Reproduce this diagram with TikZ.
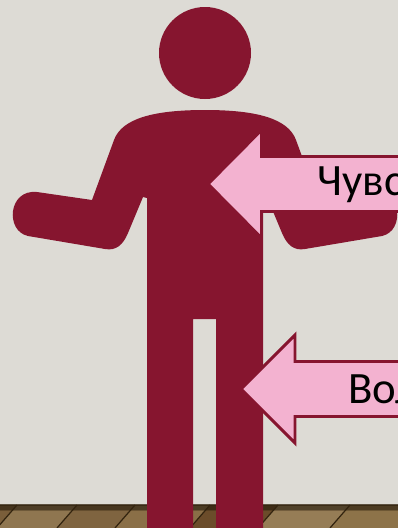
\documentclass[tikz,border=0pt]{standalone}
\usepackage{fontspec}
\setmainfont{Carlito}
\usepackage{xcolor}
\definecolor{wallc}{HTML}{DDDBD5}
\definecolor{figc}{HTML}{86152F}
\definecolor{pinkc}{HTML}{F3B2D0}
\definecolor{floorc}{HTML}{7A5E3A}
\definecolor{seamc}{HTML}{33240F}
\tikzset{
  figure/.style={fill=figc},
  callout/.style={draw=figc,fill=pinkc,line width=1.7pt,miter limit=10},
  calltext/.style={anchor=base west,inner sep=0pt,font=\fontsize{25.5pt}{28pt}\selectfont,text=black}
}
\begin{document}
\begin{tikzpicture}[x=0.02cm,y=-0.02cm]
\useasboundingbox(0,0)rectangle(398,528);
\clip(0,0)rectangle(398,528);
\fill[wallc](0,0)rectangle(398,505);
\fill[floorc](0,505)rectangle(398,528);
\foreach \x/\y/\c in {17/77/8F7650,77/135/7F6440,135/210/8A6F47,210/278/6B4C2A,278/350/967D56,350/420/8D7349}{
  \definecolor{plankc}{HTML}{\c}
  \fill[plankc](\x,505)--(\y,505)--(\y-20,528)--(\x-20,528)--cycle;
}
\fill[top color=seamc,bottom color=seamc,opacity=0.35](0,505)rectangle(398,510);
\fill[seamc,opacity=0.75](0,503.5)rectangle(398,505.5);
\foreach \x in {17,77,135,210,278,350}
\draw[seamc,line width=0.7pt](\x,505)--(\x-20,528);
\fill[figure](205,53)circle(46);
\path[figure](147,528)--(147,198)--(143,197)--(128,233)
  .. controls (123,245) and (116,251) .. (105,249)
  --(28,236)
  .. controls (5,231) and (8,189) .. (37,192)
  --(92,200)--(114,140)
  .. controls (122,118) and (155,110) .. (205,110)
  .. controls (255,110) and (288,118) .. (296,140)
  --(318,200)--(373,192)
  .. controls (402,189) and (405,231) .. (382,236)
  --(305,249)
  .. controls (294,251) and (287,245) .. (282,233)
  --(267,197)--(263,198)--(263,528)--(216,528)--(216,319)--(193,319)--(193,528)--cycle;
\draw[callout](208,184)--(261.5,130)--(261.5,156.5)--(405,156.5)--(405,211.5)--(261.5,211.5)--(261.5,238)--cycle;
\draw[callout](241,389)--(295,335)--(295,361.5)--(405,361.5)--(405,416.5)--(295,416.5)--(295,443)--cycle;
\node[calltext](feel)at(317,195){Чувс};
\node[calltext](will)at(348,403){Вол};
\end{tikzpicture}
\end{document}
